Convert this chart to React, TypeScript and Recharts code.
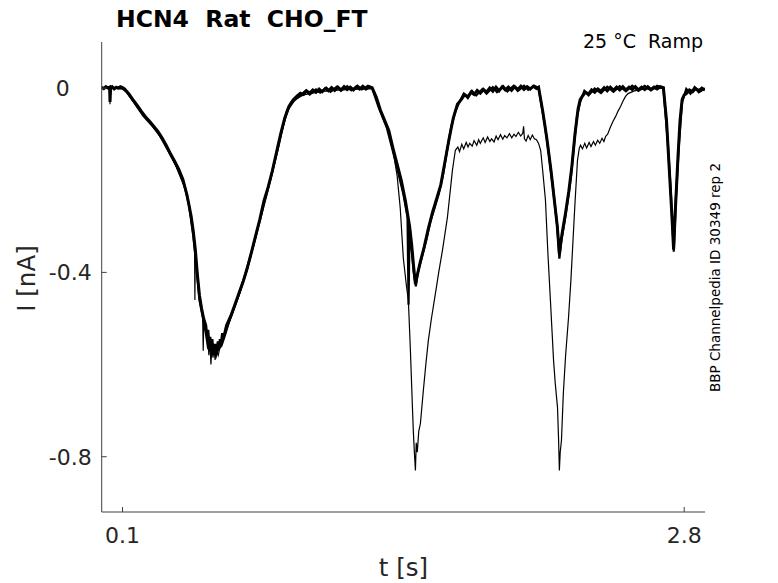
import React from 'react';
import { LineChart, Line, XAxis, YAxis } from 'recharts';

const X_TICKS = [0.1, 2.8];
const Y_TICKS = [-0.8, -0.4, 0];
const X_DOMAIN = [0, 2.9];
const Y_DOMAIN = [-0.92, 0.1];

const TITLE = 'HCN4  Rat  CHO_FT';
const CONDITION = '25 °C  Ramp';
const SOURCE = 'BBP Channelpedia ID 30349 rep 2';
const X_LABEL = 't [s]';
const Y_LABEL = 'I [nA]';

// sweep A (dominant trace), [t s, I nA]
const sweepA: [number, number][] = [
  [0, 0.002], [0.01, -0.001], [0.02, 0.003], [0.03, 0.0], [0.038, 0.002], [0.04, -0.03], [0.043, 0.001],
  [0.05, 0.003], [0.06, -0.002], [0.07, 0.002], [0.08, 0.0], [0.09, 0.003], [0.1, 0.001],
  [0.11, -0.002], [0.13, -0.012], [0.15, -0.025], [0.17, -0.037], [0.19, -0.05], [0.21, -0.062],
  [0.23, -0.072], [0.25, -0.083], [0.27, -0.094], [0.29, -0.108], [0.31, -0.124], [0.33, -0.142],
  [0.35, -0.158], [0.37, -0.176], [0.39, -0.198], [0.41, -0.232], [0.43, -0.278], [0.44, -0.31],
  [0.45, -0.35], [0.46, -0.405], [0.47, -0.45], [0.48, -0.478], [0.49, -0.5],
  [0.5, -0.515], [0.505, -0.535], [0.51, -0.525], [0.515, -0.55], [0.52, -0.54], [0.525, -0.565],
  [0.53, -0.545], [0.535, -0.57], [0.54, -0.555], [0.545, -0.575], [0.55, -0.555], [0.555, -0.57],
  [0.56, -0.55], [0.565, -0.565], [0.57, -0.545], [0.575, -0.555], [0.58, -0.535], [0.59, -0.535],
  [0.6, -0.515], [0.62, -0.495], [0.64, -0.47], [0.66, -0.445], [0.68, -0.42], [0.7, -0.39],
  [0.72, -0.356], [0.74, -0.32], [0.76, -0.285], [0.78, -0.245], [0.8, -0.215], [0.82, -0.18],
  [0.84, -0.14], [0.86, -0.1], [0.88, -0.065], [0.9, -0.04], [0.92, -0.026],
  [0.94, -0.017], [0.955, -0.011], [0.97, -0.014], [0.985, -0.006], [1.0, -0.011], [1.015, -0.004],
  [1.03, -0.009], [1.045, -0.002], [1.06, -0.008], [1.075, -0.001], [1.09, -0.006], [1.105, 0.001],
  [1.12, -0.005], [1.135, 0.002], [1.15, -0.004], [1.165, 0.003], [1.18, -0.003], [1.195, 0.002],
  [1.21, -0.004], [1.225, 0.003], [1.24, -0.002], [1.255, 0.004], [1.27, -0.002], [1.285, 0.003],
  [1.3, 0.001],
  [1.32, -0.02], [1.34, -0.048], [1.36, -0.07], [1.38, -0.092], [1.4, -0.13], [1.42, -0.165],
  [1.44, -0.2], [1.46, -0.245], [1.48, -0.3], [1.49, -0.34], [1.5, -0.39], [1.508, -0.425],
  [1.515, -0.41], [1.53, -0.38], [1.55, -0.345], [1.57, -0.305], [1.59, -0.27], [1.61, -0.24],
  [1.63, -0.21], [1.65, -0.16], [1.67, -0.11], [1.69, -0.065], [1.71, -0.035],
  [1.73, -0.024], [1.745, -0.014], [1.76, -0.019], [1.775, -0.009], [1.79, -0.014], [1.805, -0.005],
  [1.82, -0.011], [1.835, -0.003], [1.85, -0.009], [1.865, 0.0], [1.88, -0.007], [1.895, 0.002],
  [1.91, -0.006], [1.925, 0.003], [1.94, -0.004], [1.955, 0.002], [1.97, -0.005], [1.985, 0.003],
  [2.0, -0.003], [2.015, 0.004], [2.03, -0.003], [2.045, 0.003], [2.06, -0.002], [2.075, 0.004],
  [2.09, -0.001], [2.1, 0.002],
  [2.12, -0.05], [2.14, -0.11], [2.16, -0.18], [2.18, -0.26], [2.19, -0.3], [2.2, -0.36],
  [2.205, -0.34], [2.215, -0.31], [2.23, -0.27], [2.245, -0.225], [2.26, -0.17], [2.275, -0.1],
  [2.29, -0.045], [2.3, -0.025],
  [2.31, -0.018], [2.325, -0.009], [2.34, -0.013], [2.355, -0.004], [2.37, -0.009], [2.385, -0.002],
  [2.4, -0.007], [2.415, 0.001], [2.43, -0.006], [2.445, 0.002], [2.46, -0.005], [2.475, 0.002],
  [2.49, -0.004], [2.505, 0.003], [2.52, -0.004], [2.535, 0.002], [2.55, -0.003], [2.565, 0.003],
  [2.58, -0.004], [2.595, 0.002], [2.61, -0.003], [2.625, 0.003], [2.64, -0.003], [2.655, 0.002],
  [2.67, -0.002], [2.685, 0.003], [2.7, 0.001],
  [2.715, -0.07], [2.73, -0.19], [2.74, -0.27], [2.749, -0.35], [2.758, -0.26], [2.77, -0.15],
  [2.78, -0.07], [2.79, -0.025], [2.8, -0.015],
  [2.81, -0.012], [2.825, -0.004], [2.84, -0.008], [2.855, -0.001], [2.87, -0.006], [2.885, 0.0],
  [2.9, -0.004],
];

// sweep B (overlapping trace)
const sweepB: [number, number][] = [
  [0, 0.0], [0.05, 0.001], [0.1, -0.001], [0.12, -0.008], [0.16, -0.034], [0.2, -0.06], [0.24, -0.08],
  [0.28, -0.103], [0.32, -0.136], [0.36, -0.17], [0.4, -0.215], [0.42, -0.255], [0.44, -0.32],
  [0.455, -0.385], [0.47, -0.46], [0.485, -0.495], [0.5, -0.53], [0.51, -0.56], [0.52, -0.55],
  [0.53, -0.58], [0.54, -0.56], [0.55, -0.58], [0.56, -0.565], [0.575, -0.56], [0.59, -0.54],
  [0.61, -0.51], [0.65, -0.46], [0.69, -0.405], [0.73, -0.34], [0.77, -0.27], [0.81, -0.2],
  [0.85, -0.125], [0.87, -0.085], [0.89, -0.05], [0.91, -0.032], [0.95, -0.018], [0.98, -0.006],
  [1.0, -0.014], [1.03, -0.003], [1.05, -0.01], [1.08, 0.001], [1.1, -0.008], [1.13, 0.003],
  [1.15, -0.006], [1.18, 0.004], [1.2, -0.005], [1.23, 0.005], [1.25, -0.003], [1.28, 0.005],
  [1.3, 0.0],
  [1.33, -0.04], [1.37, -0.085], [1.41, -0.155], [1.45, -0.23], [1.47, -0.28], [1.475, -0.47],
  [1.48, -0.3], [1.49, -0.35], [1.5, -0.4], [1.51, -0.43], [1.52, -0.4], [1.54, -0.365],
  [1.56, -0.33], [1.58, -0.29], [1.6, -0.26], [1.62, -0.23], [1.64, -0.19], [1.66, -0.135],
  [1.68, -0.085], [1.7, -0.05], [1.72, -0.03], [1.74, -0.012], [1.76, -0.022], [1.78, -0.006],
  [1.8, -0.016], [1.83, -0.002], [1.85, -0.012], [1.88, 0.002], [1.9, -0.009], [1.93, 0.004],
  [1.95, -0.007], [1.98, 0.005], [2.0, -0.006], [2.03, 0.005], [2.05, -0.004], [2.08, 0.005],
  [2.1, 0.0],
  [2.13, -0.08], [2.15, -0.145], [2.17, -0.22], [2.19, -0.3], [2.2, -0.37], [2.21, -0.33],
  [2.225, -0.29], [2.24, -0.245], [2.255, -0.195], [2.27, -0.125], [2.285, -0.06], [2.3, -0.03],
  [2.32, -0.006], [2.34, -0.016], [2.37, -0.001], [2.4, -0.011], [2.43, 0.003], [2.46, -0.008],
  [2.49, 0.004], [2.52, -0.007], [2.55, 0.005], [2.58, -0.006], [2.61, 0.005], [2.64, -0.005],
  [2.67, 0.005], [2.7, 0.0],
  [2.72, -0.11], [2.735, -0.22], [2.75, -0.355], [2.76, -0.24], [2.775, -0.12], [2.79, -0.03],
  [2.81, -0.002], [2.83, -0.012], [2.85, 0.002], [2.87, -0.009], [2.9, -0.001],
];

// sweep C (larger-current trace)
const sweepC: [number, number][] = [
  [0, 0.0], [0.02, 0.002], [0.039, 0.0], [0.04, -0.035], [0.041, 0.0], [0.06, 0.001], [0.1, 0.0],
  [0.11, -0.004], [0.15, -0.028], [0.19, -0.054], [0.23, -0.075], [0.27, -0.098], [0.31, -0.128],
  [0.35, -0.162], [0.39, -0.204], [0.42, -0.25], [0.44, -0.318], [0.446, -0.33], [0.448, -0.46],
  [0.45, -0.345], [0.46, -0.41], [0.47, -0.455], [0.48, -0.48], [0.485, -0.49], [0.488, -0.57],
  [0.491, -0.5], [0.5, -0.52], [0.51, -0.535], [0.515, -0.58], [0.52, -0.545], [0.525, -0.6],
  [0.53, -0.56], [0.535, -0.585], [0.54, -0.565], [0.545, -0.59], [0.55, -0.565], [0.56, -0.58],
  [0.57, -0.56], [0.58, -0.545], [0.6, -0.525], [0.62, -0.5], [0.66, -0.45], [0.7, -0.395],
  [0.74, -0.325], [0.78, -0.25], [0.82, -0.185], [0.86, -0.105], [0.88, -0.07], [0.9, -0.045],
  [0.93, -0.025], [0.97, -0.015], [1.05, -0.008], [1.15, -0.004], [1.3, -0.001],
  [1.32, -0.022], [1.34, -0.05], [1.38, -0.095], [1.4, -0.135], [1.42, -0.19], [1.435, -0.26],
  [1.45, -0.37], [1.465, -0.43], [1.474, -0.46], [1.484, -0.57], [1.493, -0.685], [1.498, -0.745],
  [1.503, -0.79], [1.508, -0.83], [1.512, -0.77], [1.517, -0.79], [1.524, -0.745], [1.532, -0.728],
  [1.546, -0.657], [1.558, -0.6], [1.57, -0.548], [1.585, -0.5], [1.604, -0.446], [1.62, -0.4],
  [1.638, -0.352], [1.662, -0.28], [1.686, -0.178], [1.7, -0.135], [1.712, -0.128], [1.72, -0.138],
  [1.731, -0.122], [1.74, -0.132], [1.752, -0.118], [1.761, -0.128], [1.769, -0.12], [1.781, -0.126],
  [1.79, -0.114], [1.803, -0.124], [1.812, -0.112], [1.82, -0.12], [1.834, -0.108], [1.843, -0.118],
  [1.855, -0.106], [1.866, -0.116], [1.874, -0.11], [1.886, -0.117], [1.896, -0.104], [1.905, -0.112],
  [1.917, -0.101], [1.928, -0.111], [1.937, -0.103], [1.948, -0.108], [1.96, -0.099], [1.971, -0.108],
  [1.982, -0.1], [1.991, -0.105], [2.003, -0.096], [2.014, -0.104], [2.024, -0.098], [2.028, -0.083],
  [2.032, -0.11], [2.04, -0.115], [2.05, -0.103], [2.06, -0.112], [2.07, -0.102], [2.08, -0.11],
  [2.09, -0.112], [2.1, -0.12], [2.11, -0.135], [2.12, -0.18],
  [2.133, -0.243], [2.145, -0.36], [2.157, -0.461], [2.165, -0.53], [2.172, -0.591], [2.18, -0.64],
  [2.191, -0.693], [2.196, -0.76], [2.2, -0.83], [2.204, -0.79], [2.21, -0.765], [2.219, -0.663],
  [2.23, -0.58], [2.244, -0.498], [2.255, -0.42], [2.263, -0.352], [2.275, -0.25], [2.287, -0.157],
  [2.296, -0.13], [2.302, -0.124], [2.311, -0.132], [2.322, -0.12], [2.331, -0.13], [2.343, -0.118],
  [2.352, -0.127], [2.364, -0.116], [2.373, -0.124], [2.384, -0.113], [2.394, -0.12], [2.405, -0.109],
  [2.414, -0.116], [2.422, -0.105],
  [2.432, -0.1], [2.445, -0.085], [2.458, -0.072], [2.47, -0.062], [2.482, -0.05], [2.494, -0.04],
  [2.506, -0.028], [2.518, -0.018], [2.53, -0.012], [2.56, -0.006], [2.6, -0.003], [2.7, 0.0],
  [2.715, -0.065], [2.73, -0.185], [2.749, -0.345], [2.758, -0.255], [2.77, -0.145], [2.78, -0.065],
  [2.79, -0.022], [2.81, -0.008], [2.85, -0.003], [2.9, -0.002],
];

const toRows = (pts: [number, number][]) => pts.map(([t, i]) => ({ t, i }));

const FONT = "'DejaVu Sans', sans-serif";
const AXIS_COLOR = '#404040';
const TEXT_COLOR = '#262626';

const YTick = (props: any) => {
  const { x, y, payload } = props;
  const shift = payload.value === 0 ? -22 : 0;
  return (
    <text x={x + shift} y={y} dy="0.355em" textAnchor="end" fill={TEXT_COLOR} fontSize={22} fontFamily={FONT}>
      {String(payload.value)}
    </text>
  );
};

export default function App() {
  const rowsA = toRows(sweepA);
  const rowsB = toRows(sweepB);
  const rowsC = toRows(sweepC);
  return (
    <div style={{ position: 'absolute', left: 0, top: 0, width: 778, height: 583, background: '#fff', fontFamily: FONT }}>
      <LineChart width={778} height={583} margin={{ top: 42, right: 73, bottom: 41, left: 41.7 }}>
        <XAxis
          type="number"
          dataKey="t"
          domain={X_DOMAIN}
          ticks={X_TICKS}
          interval={0}
          allowDataOverflow
          height={30}
          stroke={AXIS_COLOR}
          tickSize={-5}
          tickMargin={20}
          tick={{ fill: TEXT_COLOR, fontSize: 22, fontFamily: FONT }}
        />
        <YAxis
          type="number"
          dataKey="i"
          domain={Y_DOMAIN}
          ticks={Y_TICKS}
          interval={0}
          allowDataOverflow
          width={60}
          stroke={AXIS_COLOR}
          tickSize={-5}
          tickMargin={15}
          tick={<YTick />}
        />
        <Line data={rowsB} dataKey="i" type="linear" dot={false} stroke="#000" strokeWidth={2.2} isAnimationActive={false} />
        <Line data={rowsC} dataKey="i" type="linear" dot={false} stroke="#000" strokeWidth={1.2} isAnimationActive={false} />
        <Line data={rowsA} dataKey="i" type="linear" dot={false} stroke="#000" strokeWidth={3} isAnimationActive={false} />
      </LineChart>
      <svg width={778} height={583} style={{ position: 'absolute', left: 0, top: 0, pointerEvents: 'none' }}>
        <text x={116} y={26.5} fontSize={23.5} fontWeight="bold" fill="#000" fontFamily={FONT} style={{ whiteSpace: 'pre' }}>{TITLE}</text>
        <text x={703} y={48} fontSize={19} fill="#000" textAnchor="end" fontFamily={FONT} style={{ whiteSpace: 'pre' }}>{CONDITION}</text>
        <text x={720} y={277.5} fontSize={13.5} fill="#000" textAnchor="middle" fontFamily={FONT} transform="rotate(-90 720 277.5)">{SOURCE}</text>
        <text x={35} y={278.5} fontSize={24.5} fill={TEXT_COLOR} textAnchor="middle" fontFamily={FONT} transform="rotate(-90 35 278.5)">{Y_LABEL}</text>
        <text x={403.4} y={576} fontSize={24.5} fill={TEXT_COLOR} textAnchor="middle" fontFamily={FONT}>{X_LABEL}</text>
      </svg>
    </div>
  );
}
